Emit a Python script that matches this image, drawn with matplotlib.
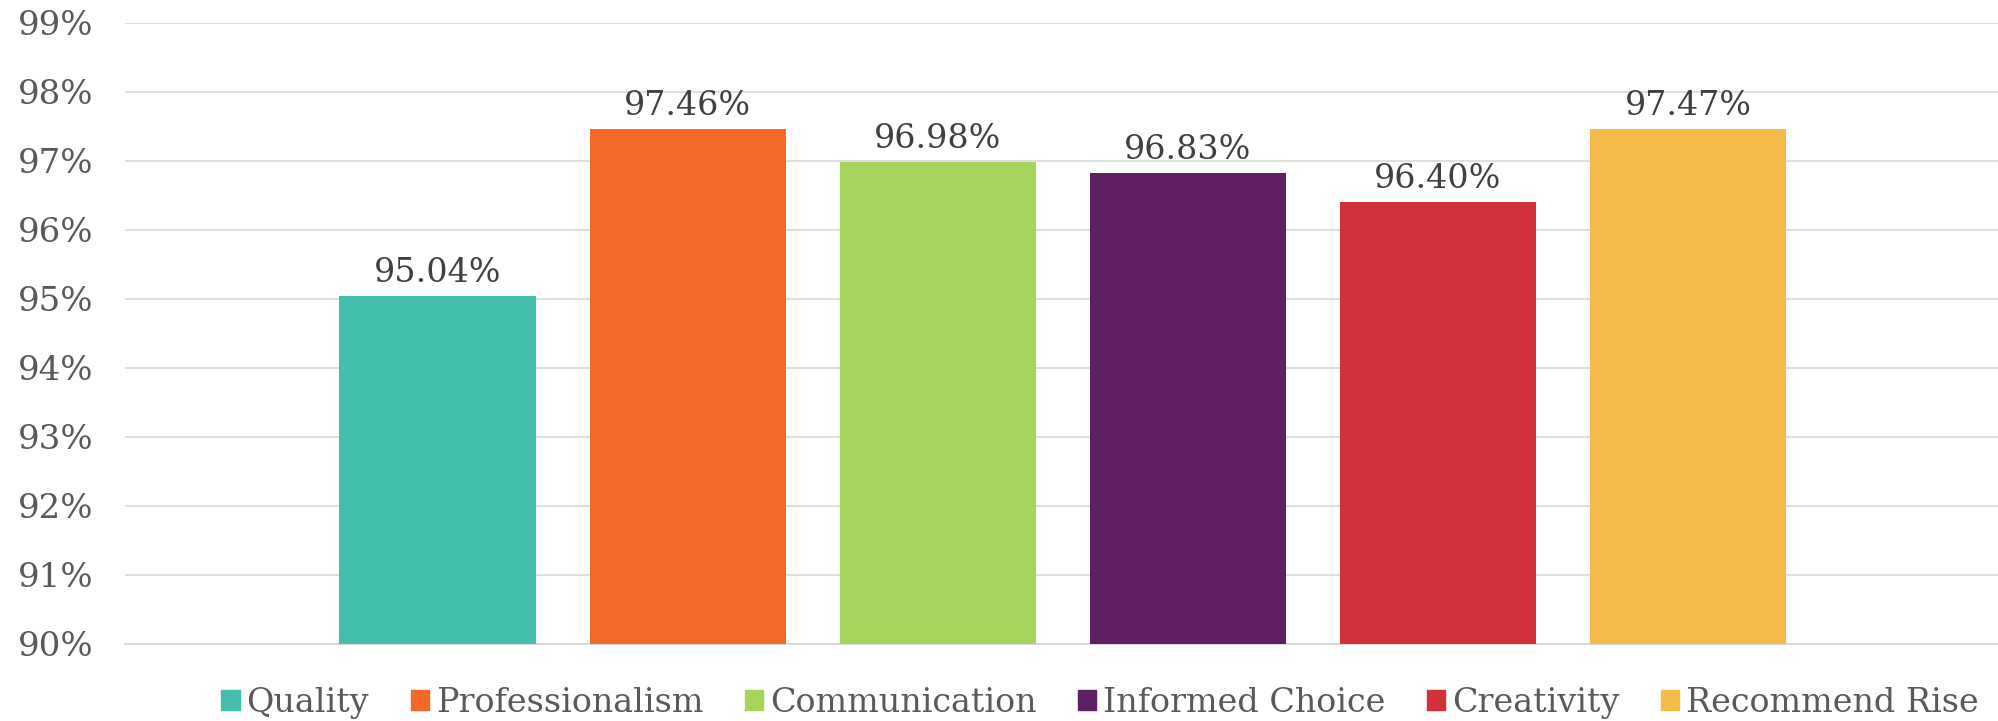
import matplotlib.pyplot as plt
from matplotlib.patches import Patch
from matplotlib.ticker import FuncFormatter

plt.rcParams['font.family'] = ['DejaVu Serif']

categories = ['Quality', 'Professionalism', 'Communication', 'Informed Choice',
              'Creativity', 'Recommend Rise']
scores = [95.04, 97.46, 96.98, 96.83, 96.40, 97.47]
colors = ['#45BFAD', '#F26825', '#A5D55D', '#5E2063', '#D13239', '#F4BB4A']
yticks = list(range(90, 100))

fig = plt.figure(figsize=(19.98, 7.21), dpi=100)
ax = fig.add_axes([0.0626, 0.1068, 0.9374, 0.8613])

x = list(range(len(categories)))
bars = ax.bar(x, scores, width=0.785, color=colors, zorder=3)

# value labels above each bar
for b, v in zip(bars, scores):
    ax.annotate('%.2f%%' % v, (b.get_x() + b.get_width() / 2, v),
                xytext=(0, 5), textcoords='offset points',
                ha='center', va='bottom', fontsize=24, color='#404040')

ax.set_xlim(-1.25, 6.24)
ax.set_ylim(90, 99)
ax.set_yticks(yticks)
ax.yaxis.set_major_formatter(FuncFormatter(lambda v, p: '%d%%' % v))
ax.tick_params(axis='y', length=0, pad=23, labelsize=24.5, labelcolor='#595959')
ax.set_xticks([])
ax.grid(axis='y', color='#D9D9D9', lw=1.2, zorder=0)
for s in ['top', 'right', 'left']:
    ax.spines[s].set_visible(False)
ax.spines['bottom'].set_color('#D9D9D9')
ax.spines['bottom'].set_linewidth(1.5)

handles = [Patch(color=c, label=n) for c, n in zip(colors, categories)]
fig.legend(handles=handles, loc='center', bbox_to_anchor=(0.5506, 0.025),
           ncol=6, frameon=False, fontsize=24, labelcolor='#595959',
           handlelength=0.55, handleheight=0.55, handletextpad=0.2,
           columnspacing=1.25)

plt.savefig('out.png', dpi=100)
